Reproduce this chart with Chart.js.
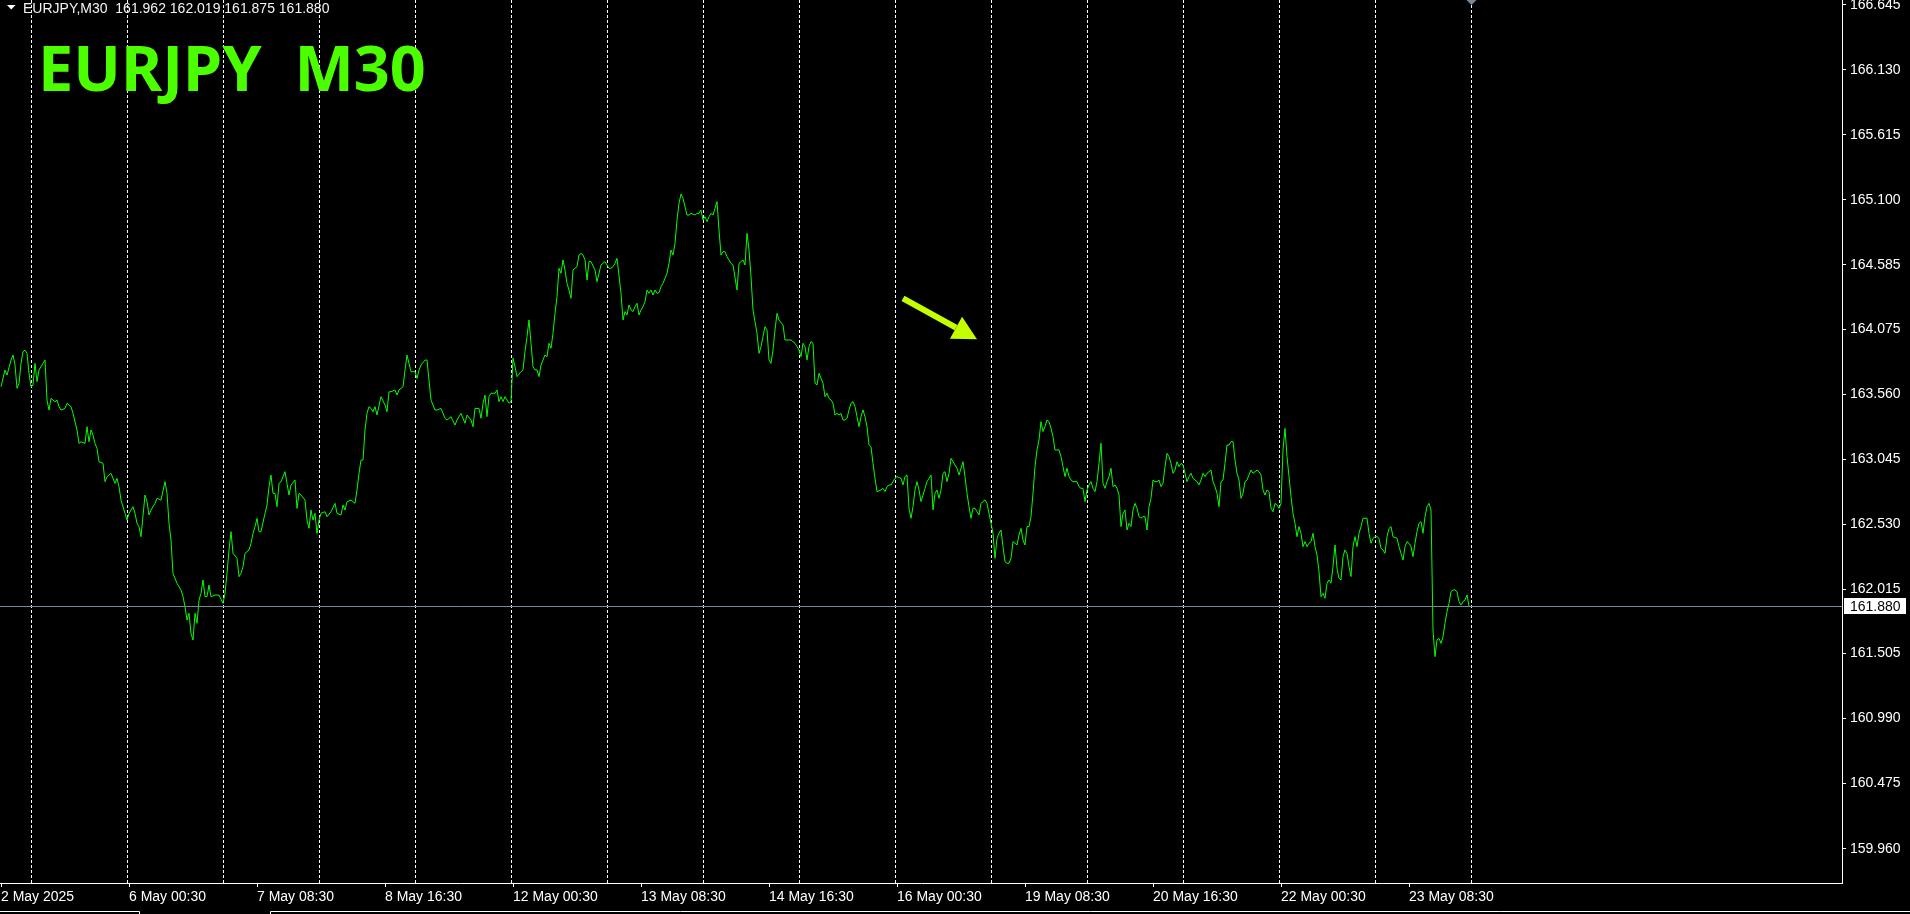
<!DOCTYPE html>
<html><head><meta charset="utf-8">
<script src="https://cdn.jsdelivr.net/npm/chart.js@4.4.1/dist/chart.umd.min.js"></script>
<style>html,body{margin:0;padding:0;background:#000;overflow:hidden}canvas{display:block}</style>
</head><body>
<canvas id="c" width="1910" height="914"></canvas>
<script>
// ---------- data ----------
const chartTitle = 'EURJPY  M30';
const headerText = 'EURJPY,M30  161.962 162.019 161.875 161.880';

// M30 bar number (0 = 2 May 16:30) and close price
const barIndex = [
 0,2,3,5,6,7,8,9,10,11, 12,13,14,15,16,17,18,19,21,22, 23,24,25,27,28,29,30,32,33,35, 36,38,39,40,42,43,44,45,46,47,
 48,49,51,52,53,55,57,58,59,60, 62,63,64,66,67,68,69,70,72,73, 74,75,77,78,80,82,83,84,85,86, 88,89,90,91,92,93,94,95,96,97,
 98,99,100,101,102,103,104,105,107,109, 111,112,113,114,115,116,118,119,120,121, 122,124,125,126,127,128,129,130,132,133,
 134,135,136,137,138,139,140,142,143,144, 145,147,148,149,150,152,153,154,155,156, 157,158,159,160,162,163,165,167,168,170,
 171,172,173,175,177,178,179,180,181,182, 183,184,185,186,187,188,190,192,193,194, 195,197,198,199,201,202,203,205,207,208,
 209,210,212,213,215,217,218,220,222,223, 225,227,228,230,232,233,235,236,237,239,
 240,241,242,243,244,245,247,248,249,250, 251,252,253,254,255,256,257,258,260,261, 262,263,264,265,266,267,268,269,270,271,
 272,273,274,275,276,277,278,279,280,281, 282,283,284,285,286,287,288,289,290,291, 292,293,294,295,297,298,300,301,302,303,
 304,305,306,307,308,310,311,312,313,314, 315,316,317,318,319,320,321,322,323,324, 325,326,327,328,329,330,331,332,333,334,
 335,336,337,338,339,340,341,342,343,344, 345,347,348,349,350,351,352,353,354,355, 356,357,358,359,360,361,362,363,364,365,
 366,368,369,371,372,373,374,375,376,377, 378,379,380,381,382,383,384,385,386,387, 388,389,391,392,393,395,396,397,398,399,
 400,401,402,403,404,405,406,407,408,409, 410,411,412,413,414,415,416,417,418,419, 420,421,422,423,424,425,426,427,428,429,
 430,431,432,433,434,435,436,437,438,440, 441,442,443,444,445,447,448,450,451,452, 453,
 454,455,456,457,458,459,460,461,462,463, 464,465,466,467,468,469,470,471,472,473, 474,475,476,478,479,481,482,483,484,485,
 486,487,488,489,490,492,493,494,495,496, 497,498,499,500,501,502,503,504,505,506, 507,508,509,510,511,512,513,514,515,516,
 517,518,519,520,521,522,523,524,525,526, 527,529,530,531,532,533,534,535,536,538, 539,540,541,542,543,544,545,546,547,548,
 549,550,551,552,553,554,555,556,557,558, 559,560,561,562,563,564,565,566,567,568, 569,570,571,572,573,574,575,576,577,578,
 579,580,581,582,583,584,585,586,587,588, 589,590,591,592,593,594,595,596,597,598, 599,600,601,602,603,604,605,606,607,608,
 609,610,611,612,613,614,615,616,617,618, 619,620,621,622,623,624,
 625,626,627,628,629,630,631,632,633,634, 635,636,637,638,639,640,641,642,643,644, 645,646,647,648,649,650,651,652,653,654,
 655,656,657,658,659,660,661,662,663,664, 665,666,667,668,669,670,671,672,673,674, 675,676,677,678,679,680,681,
 683,684,685,686,687,688,689,690,691,692, 693,694,695,696,
 698,699,700,701,702,703,704,705,706,707, 708,709,710,711,712,713,714,715,716,717, 718,719,720,721,722,723,724,725,726,727,
 728,729,730,731,732,733,734
];
const closePrice = [
 163.619,163.751,163.711,163.830,163.870,163.791,163.606,163.645,163.804,163.896,
 163.909,163.883,163.725,163.619,163.632,163.804,163.659,163.751,163.804,163.830,
 163.513,163.434,163.527,163.500,163.513,163.461,163.434,163.447,163.487,163.461,
 163.408,163.276,163.170,163.183,163.170,163.302,163.183,163.276,163.236,163.170,
 163.131,163.025,163.012,162.867,162.906,162.933,162.853,162.893,162.827,162.721,
 162.616,162.563,162.616,162.669,162.616,162.537,162.510,162.431,162.761,162.708,
 162.603,162.642,162.695,162.735,162.721,162.867,162.774,162.537,162.405,162.141,
 162.061,162.035,162.009,161.956,161.877,161.771,161.824,161.665,161.613,161.824,
 161.745,161.929,161.982,162.088,161.956,161.956,162.048,161.956,161.969,161.969,
 161.903,161.982,162.141,162.325,162.471,162.299,162.259,162.114,162.141,162.193,
 162.299,162.325,162.378,162.457,162.510,162.576,162.471,162.471,162.616,162.682,
 162.827,162.919,162.774,162.774,162.669,162.853,162.867,162.946,162.853,162.761,
 162.840,162.880,162.655,162.774,162.761,162.721,162.563,162.497,162.642,162.563,
 162.616,162.457,162.563,162.616,162.629,162.589,162.629,162.695,162.616,162.603,
 162.682,162.642,162.708,162.721,162.695,162.801,162.933,163.038,163.038,163.276,
 163.408,163.461,163.447,163.421,163.461,163.395,163.540,163.474,163.421,163.579,
 163.579,163.593,163.553,163.593,163.619,163.751,163.870,163.738,163.738,163.685,
 163.751,163.791,163.830,163.830,163.513,163.434,163.434,163.447,163.368,163.355,
 163.381,163.315,163.355,163.408,163.329,163.395,163.355,163.302,163.447,163.447,
 163.369,163.488,163.553,163.382,163.540,163.567,163.567,163.593,163.501,163.540,
 163.501,163.540,163.514,163.488,163.501,163.844,163.778,163.699,163.738,163.752,
 163.897,164.016,164.147,163.963,163.778,163.752,163.752,163.699,163.791,163.831,
 163.870,163.857,163.963,163.923,164.042,164.200,164.332,164.557,164.517,164.623,
 164.543,164.438,164.385,164.319,164.543,164.557,164.570,164.662,164.675,164.662,
 164.623,164.464,164.610,164.610,164.543,164.451,164.583,164.596,164.610,164.583,
 164.557,164.557,164.570,164.596,164.636,164.359,164.147,164.214,164.187,164.266,
 164.227,164.214,164.253,164.280,164.187,164.227,164.253,164.293,164.385,164.359,
 164.385,164.345,164.385,164.359,164.364,164.411,164.438,164.477,164.517,164.596,
 164.702,164.662,164.755,164.940,165.072,165.145,165.111,165.045,164.979,164.979,
 164.992,164.979,164.992,164.992,165.019,164.940,164.966,164.926,164.966,164.992,
 164.979,165.032,165.085,164.860,164.662,164.689,164.689,164.649,164.623,164.596,
 164.583,164.385,164.596,164.623,164.583,164.834,164.702,164.491,164.227,164.134,
 164.042,163.883,163.936,164.016,164.095,164.068,163.831,163.804,163.910,164.068,
 164.200,164.147,164.108,163.989,163.989,163.989,163.976,163.963,163.936,163.910,
 163.857,163.963,163.936,163.831,163.936,163.976,163.963,163.646,163.633,163.725,
 163.686,163.646,163.540,163.567,163.527,163.514,163.488,163.395,163.408,163.395,
 163.408,163.355,163.355,163.369,163.435,163.488,163.501,163.461,163.382,163.303,
 163.382,163.435,163.382,163.303,163.158,163.144,163.012,162.893,162.788,162.801,
 162.814,162.788,162.827,162.841,162.841,162.893,162.907,162.893,162.841,162.907,
 162.920,
 162.656,162.577,162.669,162.801,162.867,162.801,162.709,162.761,162.814,162.867,
 162.893,162.920,162.643,162.775,162.801,162.735,162.801,162.933,162.946,162.867,
 162.933,163.052,163.025,162.973,162.920,163.025,162.907,162.775,162.669,162.577,
 162.656,162.656,162.629,162.603,162.695,162.722,162.695,162.616,162.537,162.458,
 162.260,162.418,162.458,162.484,162.352,162.233,162.220,162.220,162.260,162.392,
 162.379,162.365,162.445,162.497,162.405,162.365,162.511,162.511,162.590,162.775,
 162.986,163.118,163.197,163.342,163.263,163.303,163.355,163.342,163.289,163.223,
 163.118,163.118,163.065,162.986,162.907,162.973,162.907,162.880,162.867,162.867,
 162.827,162.814,162.814,162.709,162.801,162.841,162.867,162.814,162.788,162.867,
 163.012,163.171,162.854,162.814,162.867,162.907,162.973,162.827,162.841,162.814,
 162.761,162.511,162.616,162.643,162.484,162.537,162.511,162.643,162.695,162.656,
 162.590,162.577,162.590,162.590,162.484,162.669,162.735,162.880,162.867,162.867,
 162.880,162.827,162.854,162.986,163.091,163.065,163.012,162.933,162.959,163.025,
 162.986,163.012,162.999,162.933,162.867,162.907,162.933,162.893,162.880,162.867,
 162.841,162.880,162.933,162.907,162.933,162.946,162.959,162.867,162.827,162.775,
 162.669,162.867,162.880,163.012,163.157,163.157,163.184,163.184,163.039,162.933,
 162.880,162.735,162.775,162.867,162.880,162.920,
 162.959,162.933,162.946,162.959,162.946,162.920,162.801,162.761,162.801,162.788,
 162.656,162.629,162.695,162.682,162.656,162.695,163.118,163.289,163.065,162.907,
 162.748,162.616,162.537,162.431,162.511,162.458,162.352,162.392,162.352,162.379,
 162.392,162.458,162.352,162.286,162.154,161.956,161.982,161.943,162.062,162.088,
 162.062,162.194,162.365,162.181,162.101,162.088,162.273,162.326,162.299,162.194,
 162.115,162.352,162.431,162.352,162.458,162.511,162.577,
 162.577,162.458,162.379,162.418,162.431,162.431,162.418,162.339,162.326,162.299,
 162.431,162.497,162.511,162.431,
 162.418,162.352,162.299,162.247,162.352,162.392,162.379,162.352,162.273,162.379,
 162.471,162.537,162.550,162.458,162.590,162.669,162.695,162.643,161.692,161.481,
 161.613,161.626,161.586,161.639,161.745,161.837,161.903,161.996,162.009,162.009,
 161.996,161.917,161.890,161.917,161.930,161.969,161.880
];

const xTickBars   = [0,64,128,192,256,320,384,448,512,576,640,704];
const xTickLabels = ['2 May 2025','6 May 00:30','7 May 08:30','8 May 16:30','12 May 00:30','13 May 08:30',
                     '14 May 16:30','16 May 00:30','19 May 08:30','20 May 16:30','22 May 00:30','23 May 08:30'];
const gridBars    = [15,63,111,159,207,255,303,351,399,447,495,543,591,639,687,735];
const yTickValues = [166.645,166.130,165.615,165.100,164.585,164.075,163.560,163.045,162.530,162.015,161.505,160.990,160.475,159.960];
const yTickLabels = ['166.645','166.130','165.615','165.100','164.585','164.075','163.560','163.045','162.530','162.015','161.505','160.990','160.475','159.960'];
const bidPrice = 161.880;
const bidLabel = '161.880';
const shiftBar = 735;
const arrowFrom = {bar: 451, price: 164.319};
const arrowTo   = {bar: 488, price: 163.994};
const priceMin = 159.688, priceMax = 166.682;
const barMin = -0.5, barMax = 920.5;

// ---------- drawing ----------
const points = barIndex.map((b, i) => ({x: b, y: closePrice[i]}));
const axisFont = {family: '"Liberation Sans", Arial, sans-serif', size: 14};

const overlay = {
  id: 'overlay',
  beforeDraw(chart) {
    const c = chart.ctx; c.save(); c.fillStyle = '#000'; c.fillRect(0, 0, chart.width, chart.height); c.restore();
  },
  afterDatasetsDraw(chart) {
    const c = chart.ctx, a = chart.chartArea, ys = chart.scales.y;
    const y = Math.round(ys.getPixelForValue(bidPrice)) + 0.5;
    c.save(); c.strokeStyle = '#778899'; c.lineWidth = 1;
    c.beginPath(); c.moveTo(a.left, y); c.lineTo(a.right, y); c.stroke(); c.restore();
  },
  afterDraw(chart) {
    const c = chart.ctx, a = chart.chartArea, xs = chart.scales.x, ys = chart.scales.y;
    c.save();
    // bid price box
    const by = Math.round(ys.getPixelForValue(bidPrice));
    c.fillStyle = '#ffffff'; c.fillRect(a.right + 2, by - 8, 62, 16);
    c.fillStyle = '#000000'; c.font = '14px "Liberation Sans", Arial, sans-serif';
    c.textBaseline = 'middle'; c.textAlign = 'left'; c.fillText(bidLabel, a.right + 8, by + 1);
    // header
    c.fillStyle = '#ffffff';
    c.beginPath(); c.moveTo(7, 5); c.lineTo(15.5, 5); c.lineTo(11.25, 9.5); c.closePath(); c.fill();
    c.fillStyle = '#f4f4f4'; c.fillText(headerText, 23, 9);
    // big title
    c.fillStyle = '#4cff00'; c.font = 'bold 63px "Noto Sans", sans-serif'; c.textBaseline = 'alphabetic';
    c.fillText(chartTitle, 38, 91);
    // arrow
    const x1 = xs.getPixelForValue(arrowFrom.bar), y1 = ys.getPixelForValue(arrowFrom.price);
    const x2 = xs.getPixelForValue(arrowTo.bar), y2 = ys.getPixelForValue(arrowTo.price);
    const ang = Math.atan2(y2 - y1, x2 - x1), hl = 24, hw = 12.5;
    const bx = x2 - hl * Math.cos(ang), byy = y2 - hl * Math.sin(ang);
    c.strokeStyle = '#c4ff00'; c.fillStyle = '#c4ff00'; c.lineWidth = 6; c.lineCap = 'butt';
    c.beginPath(); c.moveTo(x1, y1); c.lineTo(bx, byy); c.stroke();
    c.beginPath(); c.moveTo(x2, y2);
    c.lineTo(bx + hw * Math.sin(ang), byy - hw * Math.cos(ang));
    c.lineTo(bx - hw * Math.sin(ang), byy + hw * Math.cos(ang)); c.closePath(); c.fill();
    // chart shift marker
    const sx = xs.getPixelForValue(shiftBar) + 0.5;
    c.fillStyle = '#778899';
    c.beginPath(); c.moveTo(sx - 5, 0); c.lineTo(sx + 5, 0); c.lineTo(sx, 5); c.closePath(); c.fill();
    // bottom tab strip
    c.strokeStyle = '#ffffff'; c.lineWidth = 1;
    c.beginPath();
    c.moveTo(0, 911.5); c.lineTo(139.5, 911.5); c.lineTo(139.5, 914);
    c.moveTo(270.5, 914); c.lineTo(270.5, 911.5); c.lineTo(chart.width, 911.5);
    c.stroke();
    c.restore();
  }
};

new Chart(document.getElementById('c'), {
  type: 'line',
  data: { datasets: [{ data: points, borderColor: '#00ff00', borderWidth: 1, pointRadius: 0, tension: 0, fill: false }] },
  options: {
    responsive: false, animation: false, devicePixelRatio: 1,
    layout: { padding: 0 },
    plugins: { legend: { display: false }, tooltip: { enabled: false } },
    scales: {
      x: {
        type: 'linear', position: 'bottom', min: barMin, max: barMax,
        afterBuildTicks: s => { s.ticks = xTickBars.map(v => ({value: v})); },
        afterFit: s => { s.height = 31; s.paddingLeft = 0; s.paddingRight = 0; },
        ticks: { autoSkip: false, maxRotation: 0, align: 'start', padding: 2, color: '#ffffff', font: axisFont,
                 callback: (v, i) => xTickLabels[i] },
        grid: { drawOnChartArea: false, drawTicks: true, tickLength: 4, color: '#ffffff' },
        border: { display: true, color: '#ffffff', width: 1 }
      },
      xGrid: {
        type: 'linear', position: 'top', min: barMin, max: barMax,
        afterBuildTicks: s => { s.ticks = gridBars.map(v => ({value: v})); },
        afterFit: s => { s.height = 0; s.paddingLeft = 0; s.paddingRight = 0; },
        ticks: { display: false },
        grid: { drawOnChartArea: true, drawTicks: false, color: '#ffffff', lineWidth: 1 },
        border: { display: false, dash: [3, 2] }
      },
      y: {
        type: 'linear', position: 'right', min: priceMin, max: priceMax,
        afterBuildTicks: s => { s.ticks = yTickValues.map(v => ({value: v})); },
        afterFit: s => { s.width = 68; s.paddingTop = 0; s.paddingBottom = 0; },
        ticks: { padding: 4, color: '#ffffff', font: axisFont, callback: (v, i) => yTickLabels[i] },
        grid: { drawOnChartArea: false, drawTicks: true, tickLength: 4, color: '#ffffff' },
        border: { display: true, color: '#ffffff', width: 1 }
      }
    }
  },
  plugins: [overlay]
});
</script>
</body></html>
